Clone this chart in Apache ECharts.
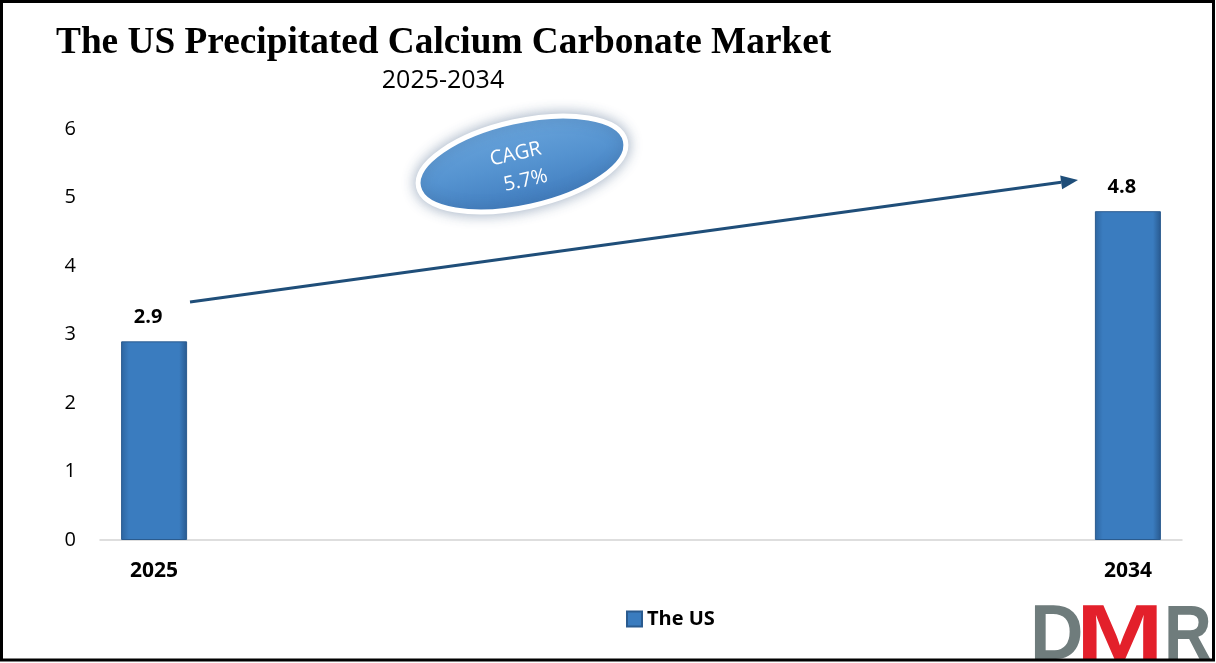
<!DOCTYPE html>
<html>
<head>
<meta charset="utf-8">
<script src="https://cdn.jsdelivr.net/npm/echarts@6/dist/echarts.min.js"></script>
<style>
  html, body { margin: 0; padding: 0; background: #fff; }
  #chart { width: 1216px; height: 663px; }
</style>
</head>
<body>
<div id="chart"></div>
<script>
// ---- data ----
const titleText = 'The US Precipitated Calcium Carbonate Market';
const subtitleText = '2025-2034';
const years = ['2025','2026','2027','2028','2029','2030','2031','2032','2033','2034'];
const shownYears = ['2025','2034'];
const usValues = [2.9, null, null, null, null, null, null, null, null, 4.8];
const seriesName = 'The US';
const yTicks = [0, 1, 2, 3, 4, 5, 6];
const cagrLines = ['CAGR', '5.7%'];

const chart = echarts.init(document.getElementById('chart'), null, { renderer: 'canvas' });

const barGradient = new echarts.graphic.LinearGradient(0, 0, 1, 0, [
  { offset: 0, color: '#2d65a0' },
  { offset: 0.12, color: '#3a7cbf' },
  { offset: 0.88, color: '#3a7cbf' },
  { offset: 1, color: '#28598e' }
]);

// arrow geometry (annotation)
const ax1 = 190, ay1 = 302, ax2 = 1078, ay2 = 180;
const ang = Math.atan2(ay2 - ay1, ax2 - ax1);
const hl = 17, hw = 7;
const bx = ax2 - hl * Math.cos(ang), by = ay2 - hl * Math.sin(ang);
const px = -Math.sin(ang), py = Math.cos(ang);
const head = [[ax2, ay2], [bx + px * hw, by + py * hw], [bx - px * hw, by - py * hw]];

const option = {
  backgroundColor: '#ffffff',
  animation: false,
  title: [
    {
      text: titleText,
      left: 51, top: 20,
      textStyle: { fontFamily: 'Liberation Serif', fontWeight: 'bold', fontSize: 37.3, color: '#000' }
    },
    {
      text: subtitleText,
      left: 438, top: 63, textAlign: 'center',
      textStyle: { fontFamily: 'Open Sans', fontWeight: 'normal', fontSize: 25, color: '#000' }
    }
  ],
  legend: {
    data: [seriesName],
    left: 621, top: 604,
    itemWidth: 15, itemHeight: 15, itemGap: 10,
    icon: 'rect',
    textStyle: { fontFamily: 'Open Sans', fontWeight: 'bold', fontSize: 20, color: '#000' }
  },
  grid: { left: 100, right: 34, top: 129, bottom: 123, containLabel: false },
  xAxis: {
    type: 'category',
    data: years,
    boundaryGap: true,
    axisLine: { show: true, lineStyle: { color: '#d4d4d4', width: 1.5 } },
    axisTick: { show: false },
    axisLabel: {
      interval: 0,
      formatter: function (v) { return shownYears.indexOf(v) >= 0 ? v : ''; },
      margin: 21,
      fontFamily: 'Open Sans', fontWeight: 'bold', fontSize: 21, color: '#000'
    },
    splitLine: { show: false }
  },
  yAxis: {
    type: 'value',
    min: yTicks[0], max: yTicks[yTicks.length - 1], interval: 1,
    axisLine: { show: false },
    axisTick: { show: false },
    splitLine: { show: false },
    axisLabel: { margin: 24, fontFamily: 'Open Sans', fontSize: 20, color: '#000' }
  },
  series: [{
    name: seriesName,
    type: 'bar',
    data: usValues,
    barWidth: 66,
    itemStyle: { color: barGradient, borderColor: '#2a5b8f', borderWidth: 1 },
    label: {
      show: true, position: 'top', distance: 14, offset: [-6, 0],
      fontFamily: 'Open Sans', fontWeight: 'bold', fontSize: 20, color: '#000'
    }
  }],
  graphic: [
    {
      type: 'rect', silent: true, z: 100,
      shape: { x: 1.5, y: 1.5, width: 1212, height: 658.5 },
      style: { fill: 'none', stroke: '#000', lineWidth: 3 }
    },
    {
      type: 'line', silent: true, z: 50,
      shape: { x1: ax1, y1: ay1, x2: bx, y2: by },
      style: { stroke: '#1f4e79', lineWidth: 3 }
    },
    {
      type: 'polygon', silent: true, z: 50,
      shape: { points: head },
      style: { fill: '#1f4e79' }
    },
    {
      type: 'group', x: 522, y: 164, rotation: 0.22, z: 60,
      children: [
        {
          type: 'ellipse',
          shape: { cx: 0, cy: 0, rx: 106, ry: 43 },
          style: {
            fill: new echarts.graphic.LinearGradient(0, 0, 0, 1, [
              { offset: 0, color: '#6aa5dc' },
              { offset: 0.5, color: '#5593d0' },
              { offset: 1, color: '#3f7bbd' }
            ]),
            stroke: '#ffffff', lineWidth: 5,
            shadowBlur: 14, shadowColor: 'rgba(60,90,130,0.45)'
          }
        },
        {
          type: 'text', x: -4, y: -11,
          style: {
            text: cagrLines[0], align: 'center', verticalAlign: 'middle',
            fontFamily: 'Open Sans', fontSize: 20, fill: '#ffffff'
          }
        },
        {
          type: 'text', x: 0, y: 17,
          style: {
            text: cagrLines[1], align: 'center', verticalAlign: 'middle',
            fontFamily: 'Open Sans', fontSize: 20, fill: '#ffffff'
          }
        }
      ]
    },
    {
      type: 'text', silent: true, z: 40, x: 1030, y: 598, scaleX: 0.95,
      style: { text: 'D', fontFamily: 'Liberation Sans', fontWeight: 'bold', fontSize: 78, fill: '#6f7c7c', verticalAlign: 'top' }
    },
    {
      type: 'text', silent: true, z: 41, x: 1076, y: 598, scaleX: 1.35,
      style: { text: 'M', fontFamily: 'Liberation Sans', fontWeight: 'bold', fontSize: 78, fill: '#e3202b', verticalAlign: 'top' }
    },
    {
      type: 'text', silent: true, z: 40, x: 1164, y: 598, scaleX: 0.85,
      style: { text: 'R', fontFamily: 'Liberation Sans', fontWeight: 'bold', fontSize: 78, fill: '#6f7c7c', verticalAlign: 'top' }
    }
  ]
};

chart.setOption(option);
</script>
</body>
</html>
